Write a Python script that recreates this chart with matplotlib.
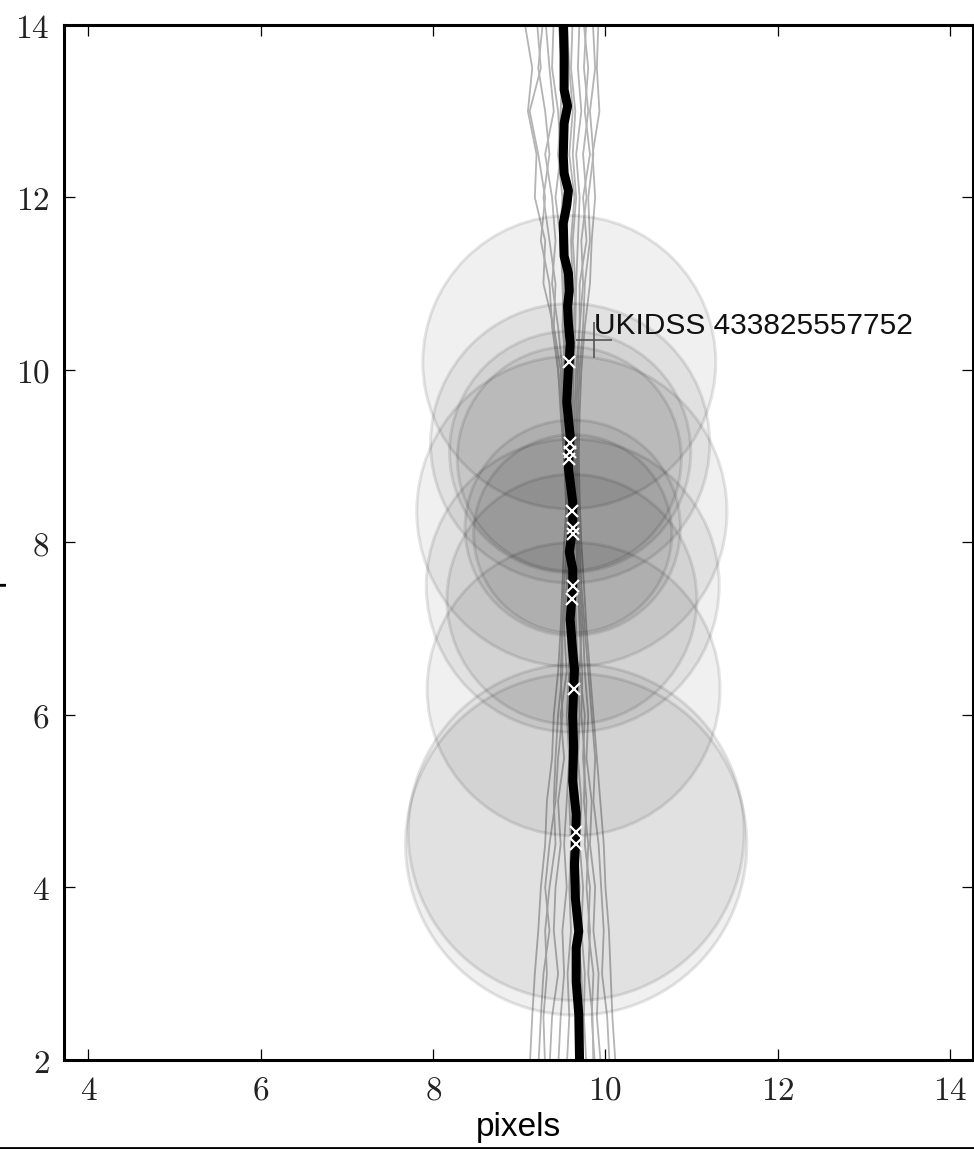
import matplotlib
matplotlib.use("Agg")
import matplotlib.pyplot as plt
from matplotlib.patches import Circle
from matplotlib.lines import Line2D
from matplotlib.ticker import FuncFormatter

plt.rcParams['mathtext.fontset'] = 'cm'

# ---------------- data ----------------
# main (best-fit) track
track_y = [14.1, 13.64, 13.25, 13.06, 12.86, 12.48, 12.28, 12.08, 11.90, 11.70, 11.32, 11.12,
           10.92, 10.74, 10.54, 10.31, 10.11, 10.02, 9.63, 9.24, 8.86, 8.47, 8.16, 7.89, 7.69,
           7.50, 7.11, 6.73, 6.53, 6.30, 5.99, 5.63, 5.23, 4.85, 4.46, 4.27, 3.88, 3.49, 3.30,
           2.91, 2.53, 1.95]
track_x = [9.51, 9.52, 9.52, 9.56, 9.52, 9.51, 9.52, 9.57, 9.55, 9.51, 9.52, 9.57,
           9.58, 9.56, 9.57, 9.59, 9.58, 9.57, 9.55, 9.59, 9.57, 9.62, 9.62, 9.58, 9.62,
           9.62, 9.59, 9.62, 9.64, 9.63, 9.62, 9.63, 9.62, 9.66, 9.65, 9.64, 9.65, 9.69, 9.66,
           9.66, 9.69, 9.70]

# alternative (sampled) tracks, x values on a common y grid
alt_y = [14.1, 13.5, 13.0, 12.5, 12.0, 11.5, 11.0, 10.5, 10.0, 9.5, 9.0, 8.5, 8.0, 7.5, 7.0,
         6.5, 6.0, 5.5, 5.0, 4.5, 4.0, 3.5, 3.0, 2.5, 1.9]
alt_a = [9.05, 9.15, 9.10, 9.20, 9.18, 9.30, 9.28, 9.40, 9.45, 9.48, 9.52, 9.55, 9.52, 9.50, 9.48, 9.45, 9.40, 9.38, 9.32, 9.30, 9.25, 9.22, 9.18, 9.15, 9.12]
alt_b = [9.20, 9.25, 9.12, 9.22, 9.30, 9.25, 9.35, 9.38, 9.45, 9.50, 9.52, 9.54, 9.55, 9.52, 9.50, 9.48, 9.50, 9.45, 9.42, 9.35, 9.30, 9.35, 9.28, 9.25, 9.22]
alt_c = [9.30, 9.35, 9.40, 9.30, 9.38, 9.42, 9.38, 9.45, 9.50, 9.52, 9.55, 9.56, 9.58, 9.55, 9.52, 9.55, 9.48, 9.52, 9.45, 9.48, 9.42, 9.40, 9.45, 9.38, 9.35]
alt_d = [9.40, 9.38, 9.45, 9.48, 9.42, 9.48, 9.50, 9.52, 9.52, 9.55, 9.57, 9.58, 9.58, 9.58, 9.56, 9.58, 9.55, 9.58, 9.55, 9.52, 9.55, 9.50, 9.52, 9.48, 9.45]
alt_e = [9.45, 9.50, 9.48, 9.45, 9.50, 9.47, 9.52, 9.50, 9.55, 9.54, 9.58, 9.60, 9.59, 9.60, 9.58, 9.60, 9.58, 9.60, 9.58, 9.60, 9.58, 9.60, 9.56, 9.58, 9.55]
alt_f = [9.62, 9.60, 9.65, 9.62, 9.66, 9.62, 9.65, 9.63, 9.60, 9.60, 9.62, 9.63, 9.63, 9.64, 9.66, 9.68, 9.70, 9.68, 9.72, 9.70, 9.74, 9.72, 9.76, 9.75, 9.78]
alt_g = [9.70, 9.68, 9.72, 9.66, 9.70, 9.68, 9.66, 9.65, 9.63, 9.62, 9.64, 9.65, 9.66, 9.68, 9.70, 9.73, 9.72, 9.76, 9.75, 9.80, 9.78, 9.82, 9.80, 9.85, 9.86]
alt_h = [9.78, 9.75, 9.80, 9.74, 9.78, 9.72, 9.74, 9.70, 9.68, 9.66, 9.66, 9.67, 9.68, 9.70, 9.74, 9.76, 9.80, 9.78, 9.84, 9.82, 9.88, 9.86, 9.92, 9.90, 9.95]
alt_i = [9.85, 9.88, 9.82, 9.86, 9.80, 9.82, 9.76, 9.74, 9.70, 9.68, 9.67, 9.68, 9.70, 9.72, 9.76, 9.80, 9.84, 9.88, 9.86, 9.92, 9.95, 9.98, 9.96, 10.02, 10.05]
alt_j = [9.92, 9.90, 9.93, 9.85, 9.88, 9.84, 9.82, 9.76, 9.72, 9.70, 9.69, 9.70, 9.72, 9.75, 9.78, 9.82, 9.86, 9.90, 9.94, 9.98, 10.00, 10.04, 10.06, 10.08, 10.12]
alt_k = [9.55, 9.58, 9.62, 9.58, 9.64, 9.60, 9.62, 9.60, 9.62, 9.58, 9.60, 9.62, 9.62, 9.63, 9.62, 9.65, 9.66, 9.65, 9.68, 9.66, 9.70, 9.68, 9.72, 9.74, 9.72]
alt_l = [9.28, 9.22, 9.30, 9.35, 9.28, 9.35, 9.42, 9.40, 9.48, 9.50, 9.53, 9.55, 9.56, 9.55, 9.50, 9.50, 9.45, 9.42, 9.40, 9.42, 9.35, 9.30, 9.32, 9.28, 9.30]
alt_m = [9.74, 9.80, 9.76, 9.82, 9.74, 9.78, 9.70, 9.70, 9.66, 9.64, 9.65, 9.66, 9.67, 9.68, 9.72, 9.70, 9.76, 9.74, 9.78, 9.76, 9.82, 9.80, 9.86, 9.84, 9.88]
alt_tracks = [alt_a, alt_b, alt_c, alt_d, alt_e, alt_f, alt_g, alt_h, alt_i, alt_j, alt_k, alt_l, alt_m]

# detections: position and positional error radius
det_x = [9.58, 9.59, 9.59, 9.58, 9.61, 9.62, 9.62, 9.62, 9.61, 9.63, 9.66, 9.66]
det_y = [10.09, 9.15, 9.05, 8.97, 8.36, 8.17, 8.10, 7.50, 7.34, 6.30, 4.64, 4.50]
det_r = [1.70, 1.62, 1.40, 1.30, 1.80, 1.25, 1.15, 1.70, 1.45, 1.70, 1.95, 1.98]

# catalogue source
src_x = [9.87]
src_y = [10.35]
src_label = "UKIDSS 433825557752"

x_ticks = [4, 6, 8, 10, 12, 14]
y_ticks = [2, 4, 6, 8, 10, 12, 14]

# ---------------- figure ----------------
fig = plt.figure(figsize=(9.74, 11.49), dpi=100)
ax = fig.add_axes([0.0652, 0.07746, 0.9333, 0.9008])

for xs in alt_tracks:
    ax.plot(xs, alt_y, color='#b4b4b4', lw=1.3, zorder=1, solid_joinstyle='round')

for x, y, r in zip(det_x, det_y, det_r):
    ax.add_patch(Circle((x, y), r, facecolor=(0, 0, 0, 0.06),
                        edgecolor=(0, 0, 0, 0.10), lw=2.2, zorder=2))

ax.plot(track_x, track_y, color='black', lw=6.5, zorder=3,
        solid_capstyle='butt', solid_joinstyle='round')
ax.plot(det_x, det_y, linestyle='none', marker='x', ms=8, mew=1.6, mec='white', zorder=4)

ax.plot(src_x, src_y, linestyle='none', marker='+', ms=26, mew=1.2, color='#555555', zorder=5)
ax.text(src_x[0], src_y[0], src_label, ha='left', va='bottom', fontsize=21.5,
        family='Liberation Sans', color='#111111', zorder=6)

ax.set_xlim(3.71, 14.26)
ax.set_ylim(2, 14)
ax.set_xticks(x_ticks)
ax.set_yticks(y_ticks)
fmt = FuncFormatter(lambda v, p: r'$%g$' % v)
ax.xaxis.set_major_formatter(fmt)
ax.yaxis.set_major_formatter(fmt)
ax.tick_params(direction='in', length=8, width=0.9, top=True, right=True,
               labelsize=24, pad=10, labelcolor='#222222')
for s in ax.spines.values():
    s.set_linewidth(2.2)

ax.set_xlabel('pixels', fontsize=24, family='Liberation Sans', labelpad=4)
# y-axis label, mostly outside the left edge as in the reference
fig.text(5 / 974, 1 - 543 / 1149, 'pixels', rotation=90, ha='right', va='center',
         fontsize=24, family='Liberation Sans')

fig.add_artist(Line2D([0, 1], [1.5 / 1149, 1.5 / 1149], color='black', lw=2,
                      transform=fig.transFigure))

fig.savefig('out.png', dpi=100)
